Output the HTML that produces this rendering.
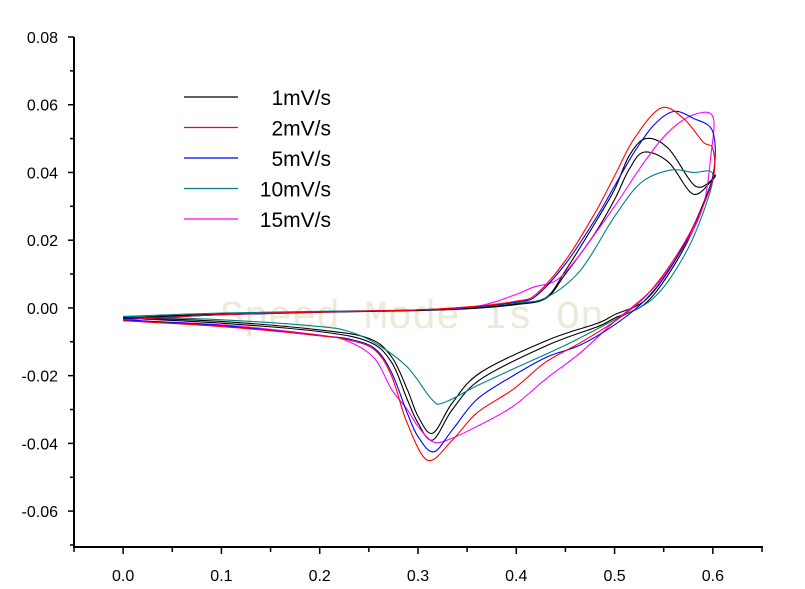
<!DOCTYPE html>
<html><head><meta charset="utf-8"><style>
html,body{margin:0;padding:0;background:#fff;}
svg{display:block;font-family:"Liberation Sans",Arial,sans-serif;}
</style></head><body>
<svg id="chart" width="805" height="589" viewBox="0 0 805 589">
<text x="220" y="328" font-family="Liberation Mono, monospace" font-size="40" fill="#ece9d8">Speed Mode Is On</text>
<g id="series"></g>
<g id="axes"></g>
<g id="legend"></g>
</svg>
<script>
const xTicks=[0.0,0.1,0.2,0.3,0.4,0.5,0.6];
const yTicks=[0.08,0.06,0.04,0.02,0.00,-0.02,-0.04,-0.06];
const legendLabels=["1mV/s","2mV/s","5mV/s","10mV/s","15mV/s"];
const legendColors=["#000000","#ff0000","#0000ff","#008080","#ff00ff"];

const s1E=[0,0.1,0.2,0.3,0.36,0.4,0.43,0.45,0.48,0.5,0.515,0.532,0.555,0.582,0.6, 0.6,0.58,0.555,0.53,0.5,0.483,0.432,0.364,0.335,0.315,0.3,0.289,0.273,0.25,0.2,0.1,0];
const s1I=[-0.0028,-0.0018,-0.0012,-0.0007,0.0,0.0012,0.003,0.011,0.025,0.035,0.045,0.050,0.047,0.036,0.038, 0.038,0.024,0.011,0.002,-0.002,-0.0045,-0.0095,-0.019,-0.028,-0.037,-0.032,-0.024,-0.0144,-0.009,-0.0065,-0.004,-0.0028];
const s1bE=[0,0.1,0.2,0.3,0.36,0.4,0.43,0.45,0.48,0.5,0.515,0.53,0.555,0.58,0.6, 0.6,0.58,0.555,0.53,0.5,0.483,0.432,0.364,0.335,0.315,0.3,0.289,0.273,0.25,0.2,0.1,0];
const s1bI=[-0.003,-0.002,-0.0013,-0.0008,-0.0001,0.001,0.0028,0.01,0.022,0.032,0.041,0.046,0.043,0.0336,0.038, 0.038,0.023,0.010,0.001,-0.003,-0.0055,-0.011,-0.021,-0.030,-0.039,-0.034,-0.027,-0.016,-0.010,-0.007,-0.0045,-0.003];
const s2E=[0,0.1,0.2,0.3,0.36,0.4,0.42,0.45,0.48,0.5,0.52,0.547,0.57,0.59,0.6, 0.6,0.58,0.555,0.53,0.5,0.465,0.43,0.397,0.36,0.335,0.31,0.289,0.273,0.256,0.23,0.2,0.1,0];
const s2I=[-0.0035,-0.002,-0.0012,-0.0006,0.0005,0.002,0.004,0.014,0.028,0.039,0.05,0.059,0.056,0.049,0.047, 0.038,0.024,0.012,0.003,-0.004,-0.0103,-0.016,-0.024,-0.031,-0.039,-0.045,-0.034,-0.020,-0.0124,-0.0095,-0.0082,-0.0055,-0.0038];
const s5E=[0,0.1,0.2,0.3,0.36,0.4,0.42,0.45,0.48,0.5,0.52,0.54,0.56,0.58,0.6, 0.6,0.58,0.555,0.53,0.5,0.465,0.432,0.397,0.36,0.335,0.316,0.3,0.289,0.273,0.256,0.23,0.2,0.1,0];
const s5I=[-0.0033,-0.002,-0.0012,-0.0006,0.0004,0.0018,0.0035,0.013,0.026,0.036,0.046,0.054,0.058,0.056,0.052, 0.039,0.024,0.011,0.002,-0.005,-0.011,-0.0144,-0.020,-0.027,-0.036,-0.0425,-0.038,-0.031,-0.019,-0.012,-0.0092,-0.0082,-0.0052,-0.0035];
const s10E=[0,0.1,0.2,0.3,0.36,0.4,0.43,0.465,0.5,0.527,0.557,0.58,0.6, 0.59,0.57,0.54,0.5,0.45,0.397,0.36,0.326,0.314,0.289,0.256,0.23,0.2,0.1,0];
const s10I=[-0.0025,-0.0015,-0.001,-0.0006,0.0003,0.0015,0.003,0.011,0.027,0.037,0.0407,0.040,0.0395, 0.028,0.015,0.003,-0.0035,-0.011,-0.018,-0.023,-0.028,-0.027,-0.0174,-0.0103,-0.007,-0.0055,-0.0035,-0.0025];
const s15E=[0,0.1,0.2,0.3,0.36,0.4,0.418,0.44,0.46,0.5,0.53,0.555,0.58,0.6, 0.598,0.59,0.57,0.54,0.5,0.465,0.43,0.397,0.36,0.33,0.315,0.3,0.289,0.273,0.256,0.23,0.2,0.1,0];
const s15I=[-0.0035,-0.002,-0.0012,-0.0006,0.0005,0.004,0.0062,0.008,0.014,0.030,0.043,0.052,0.057,0.0565, 0.045,0.03,0.018,0.006,-0.004,-0.0133,-0.021,-0.029,-0.035,-0.039,-0.0395,-0.035,-0.030,-0.024,-0.015,-0.010,-0.008,-0.005,-0.0037];

const seriesList=[
 {name:"series-1mv",E:s1E,I:s1I,c:"#000000"},
 {name:"series-extra-black",E:s1bE,I:s1bI,c:"#000000"},
 {name:"series-10mv",E:s10E,I:s10I,c:"#008080"},
 {name:"series-15mv",E:s15E,I:s15I,c:"#ff00ff"},
 {name:"series-5mv",E:s5E,I:s5I,c:"#0000ff"},
 {name:"series-2mv",E:s2E,I:s2I,c:"#ff0000"}
];

const X0=74,X1=762,XMIN=-0.05,XMAX=0.65;
const Y0=547,Y1=37,YMIN=-0.0706,YMAX=0.08;
function xs(v){return X0+(v-XMIN)/(XMAX-XMIN)*(X1-X0);}
function ys(v){return Y0-(v-YMIN)/(YMAX-YMIN)*(Y0-Y1);}
const NS="http://www.w3.org/2000/svg";
function mk(t,a,p){const e=document.createElementNS(NS,t);for(const k in a)e.setAttribute(k,a[k]);p.appendChild(e);return e;}

function splinePath(pts){
 let d="M"+pts[0][0].toFixed(2)+","+pts[0][1].toFixed(2);
 for(let i=0;i<pts.length-1;i++){
  const p0=pts[Math.max(0,i-1)],p1=pts[i],p2=pts[i+1],p3=pts[Math.min(pts.length-1,i+2)];
  const c1=[p1[0]+(p2[0]-p0[0])/6,p1[1]+(p2[1]-p0[1])/6];
  const c2=[p2[0]-(p3[0]-p1[0])/6,p2[1]-(p3[1]-p1[1])/6];
  d+=" C"+c1[0].toFixed(2)+","+c1[1].toFixed(2)+" "+c2[0].toFixed(2)+","+c2[1].toFixed(2)+" "+p2[0].toFixed(2)+","+p2[1].toFixed(2);
 }
 return d;
}
const gs=document.getElementById("series");
seriesList.forEach(s=>{
 const pts=s.E.map((e,i)=>[xs(e),ys(s.I[i])]);
 const p=mk("path",{d:splinePath(pts),fill:"none",stroke:s.c,"stroke-width":"1.1"},gs);
 
 
});

const ga=document.getElementById("axes");
let a=mk("line",{x1:X0,y1:Y1,x2:X0,y2:Y0+1,stroke:"#000","stroke-width":"2"},ga);


a=mk("line",{x1:X0-1,y1:Y0,x2:X1+1,y2:Y0,stroke:"#000","stroke-width":"2"},ga);


yTicks.forEach(v=>{
 const y=ys(v);
 mk("line",{x1:X0-6,y1:y,x2:X0,y2:y,stroke:"#000","stroke-width":"1.5"},ga);
 const t=mk("text",{x:58,y:y+6,"text-anchor":"end","font-size":"16",fill:"#000"},ga);
 t.textContent=v.toFixed(2);
 
 
 const ym=ys(v-0.01);
 if(ym<=Y0) mk("line",{x1:X0-4,y1:ym,x2:X0,y2:ym,stroke:"#000","stroke-width":"1.5"},ga);
});
xTicks.forEach(v=>{
 const x=xs(v);
 mk("line",{x1:x,y1:Y0,x2:x,y2:Y0+7,stroke:"#000","stroke-width":"1.5"},ga);
 const t=mk("text",{x:x,y:581,"text-anchor":"middle","font-size":"16",fill:"#000"},ga);
 t.textContent=v.toFixed(1);
 
 
 mk("line",{x1:xs(v-0.05),y1:Y0,x2:xs(v-0.05),y2:Y0+5,stroke:"#000","stroke-width":"1.5"},ga);
});
mk("line",{x1:xs(0.65),y1:Y0,x2:xs(0.65),y2:Y0+5,stroke:"#000","stroke-width":"1.5"},ga);

const gl=document.getElementById("legend");
legendLabels.forEach((lab,i)=>{
 const y=97+i*30.5;
 const g=mk("g",{},gl);
 
 
 mk("line",{x1:184,y1:y,x2:238,y2:y,stroke:legendColors[i],"stroke-width":"1.2"},g);
 const t=mk("text",{x:331,y:y+8,"text-anchor":"end","font-size":"21",fill:"#000"},g);
 t.textContent=lab;
});
</script>
</body></html>
